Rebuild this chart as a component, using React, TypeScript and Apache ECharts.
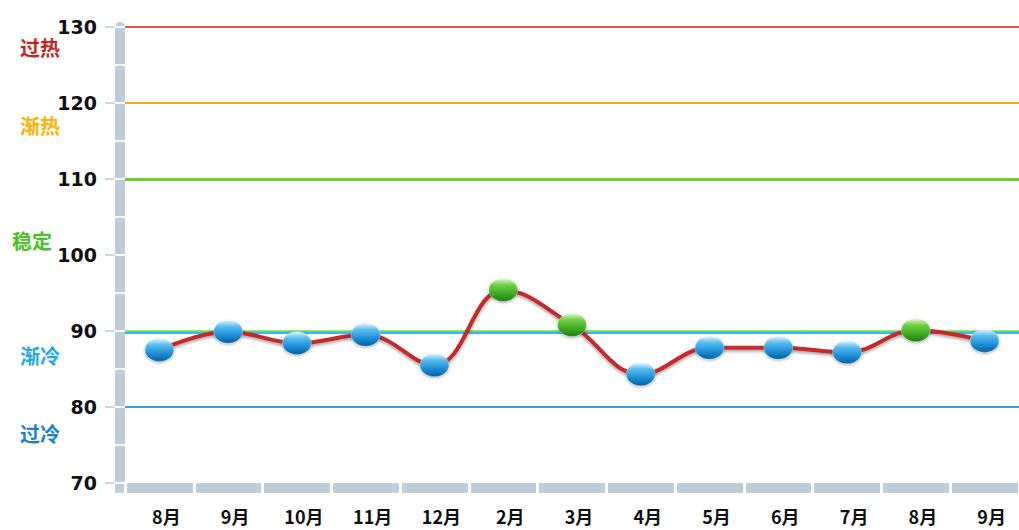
import React, { useEffect, useRef } from "react";
import * as echarts from "echarts";

const categories = ["8月", "9月", "10月", "11月", "12月", "2月", "3月", "4月", "5月", "6月", "7月", "8月", "9月"];
const values = [87.5, 89.9, 88.4, 89.5, 85.5, 95.4, 90.8, 84.3, 87.8, 87.8, 87.2, 90.1, 88.7];
const yMin = 70;
const yMax = 130;
const yInterval = 10;
const thresholds = [130, 120, 110, 90, 80];
const zoneNames = ["过热", "渐热", "稳定", "渐冷", "过冷"];
const stableFloor = 90;

const thresholdStyles = [
  { color: "#e05252", width: 2 },
  { color: "#f5a623", width: 2 },
  { color: "#6ccc30", width: 3 },
  { color: "#6adb5a", width: 2.5 },
  { color: "#3d9be0", width: 2 },
];
const zoneStyles = [
  { color: "#cc1f1f", left: 20, top: 37 },
  { color: "#ffb000", left: 20, top: 115 },
  { color: "#4cc22a", left: 12, top: 230 },
  { color: "#1eaaf0", left: 20, top: 345 },
  { color: "#1a7fd0", left: 20, top: 423 },
];

const blueGrad = new echarts.graphic.LinearGradient(0, 0, 0, 1, [
  { offset: 0, color: "#e0f5ff" },
  { offset: 0.28, color: "#58bdf0" },
  { offset: 0.7, color: "#1688d2" },
  { offset: 1, color: "#0b5f9e" },
]);
const greenGrad = new echarts.graphic.LinearGradient(0, 0, 0, 1, [
  { offset: 0, color: "#e0f9d0" },
  { offset: 0.28, color: "#70d044" },
  { offset: 0.7, color: "#3aa51f" },
  { offset: 1, color: "#237a12" },
]);

const BAND = "#bccddc";

export default function App() {
  const ref = useRef<HTMLDivElement>(null);
  useEffect(() => {
    if (!ref.current) return;
    const chart = echarts.init(ref.current, null, { renderer: "svg" });
    const yBase = { type: "value", min: yMin, max: yMax, position: "left", splitLine: { show: false } };
    chart.setOption({
      animation: false,
      backgroundColor: "#ffffff",
      grid: { left: 125, right: -7, top: 27, bottom: 47 },
      xAxis: [
        {
          type: "category",
          data: categories,
          position: "bottom",
          offset: 0,
          z: 4,
          axisLine: { show: false },
          axisTick: { show: true, inside: false, length: 10, lineStyle: { color: "#ffffff", width: 3 } },
          axisLabel: {
            margin: 24,
            padding: [0, 0, 0, 14],
            color: "#111",
            fontSize: 18,
            fontWeight: "bold",
            fontFamily: "Noto Sans CJK SC",
          },
        },
        {
          type: "category",
          data: categories,
          position: "bottom",
          offset: 5,
          z: 1,
          axisLine: { show: true, lineStyle: { color: BAND, width: 10 } },
          axisTick: { show: false },
          axisLabel: { show: false },
        },
      ],
      yAxis: [
        {
          ...yBase,
          interval: yInterval,
          offset: 10,
          z: 1,
          axisLine: { show: false },
          axisTick: { show: true, length: 10, lineStyle: { color: BAND, width: 1.5 } },
          axisLabel: {
            margin: 18,
            color: "#111",
            fontSize: 19,
            fontWeight: "bold",
            fontFamily: "DejaVu Sans",
          },
        },
        {
          ...yBase,
          interval: yInterval,
          offset: 5,
          z: 1,
          axisLine: { show: true, lineStyle: { color: BAND, width: 10 } },
          axisTick: { show: false },
          axisLabel: { show: false },
        },
        {
          ...yBase,
          interval: yInterval / 2,
          offset: 10,
          z: 4,
          axisLine: { show: false },
          axisTick: { show: true, inside: true, length: 10, lineStyle: { color: "#ffffff", width: 2 } },
          axisLabel: { show: false },
        },
      ],
      graphic: [
        { type: "rect", left: 115, top: 483, shape: { width: 10, height: 10 }, style: { fill: BAND }, z: 0 },
        ...zoneNames.map((name, i) => ({
          type: "text",
          left: zoneStyles[i].left,
          top: zoneStyles[i].top,
          style: {
            text: name,
            fill: zoneStyles[i].color,
            font: "bold 20px 'Noto Sans CJK SC'",
          },
        })),
      ],
      series: [
        {
          type: "line",
          data: [],
          z: 1,
          markLine: {
            silent: true,
            symbol: "none",
            label: { show: false },
            data: [
              ...thresholds.map((v, i) => ({ yAxis: v, lineStyle: { ...thresholdStyles[i], type: "solid" } })),
              { yAxis: stableFloor - 0.25, lineStyle: { color: "#38b6ee", width: 2, type: "solid" } },
            ],
          },
        },
        {
          type: "line",
          z: 5,
          data: values.map((v) => ({
            value: v,
            itemStyle: { color: v >= stableFloor ? greenGrad : blueGrad, borderColor: "rgba(255,255,255,0.6)", borderWidth: 0.5, shadowColor: "rgba(0,0,0,0.35)", shadowBlur: 3, shadowOffsetY: 1 },
          })),
          smooth: 0.4,
          symbol: "circle",
          symbolSize: [29, 23],
          showAllSymbol: true,
          lineStyle: { color: "#c42a2a", width: 4, shadowColor: "rgba(0,0,0,0.35)", shadowBlur: 3, shadowOffsetY: 2 },
        },
      ],
    });
    return () => chart.dispose();
  }, []);
  return <div ref={ref} style={{ position: "fixed", left: 0, top: 0, width: 1019, height: 530 }} />;
}
